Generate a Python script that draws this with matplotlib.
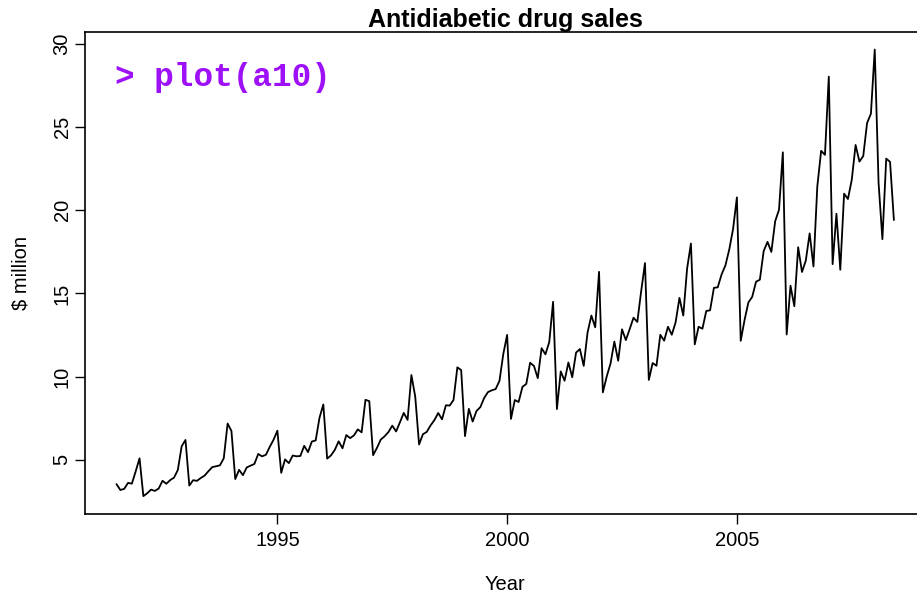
import numpy as np
import matplotlib.pyplot as plt

# Monthly antidiabetic drug sales (a10), Jul 1991 - Jun 2008
start_year = 1991.5
sales = [
    3.526591, 3.180891, 3.252221, 3.611003, 3.565869, 4.306371,
    5.088335, 2.814520, 2.985811, 3.204780, 3.127578, 3.270523,
    3.737851, 3.558776, 3.777202, 3.924490, 4.386531, 5.810549,
    6.192068, 3.450857, 3.772307, 3.734303, 3.905399, 4.049687,
    4.315566, 4.562185, 4.608662, 4.667851, 5.093841, 7.179962,
    6.731473, 3.841278, 4.394076, 4.075341, 4.540645, 4.645615,
    4.752193, 5.350605, 5.204455, 5.301651, 5.773742, 6.204593,
    6.749484, 4.216067, 5.021613, 4.799091, 5.256133, 5.208566,
    5.228711, 5.837474, 5.459413, 6.098237, 6.162564, 7.528097,
    8.326584, 5.069796, 5.262557, 5.597126, 6.110296, 5.689161,
    6.486849, 6.300569, 6.467476, 6.828629, 6.649707, 8.606443,
    8.524753, 5.277225, 5.714571, 6.214020, 6.411115, 6.667909,
    7.050774, 6.704290, 7.250984, 7.819136, 7.398101, 10.096233,
    8.798501, 5.918871, 6.534138, 6.675206, 7.064202, 7.383845,
    7.813386, 7.431201, 8.275117, 8.260782, 8.596159, 10.558939,
    10.391288, 6.421559, 8.062058, 7.297119, 7.936605, 8.165363,
    8.717208, 9.070431, 9.177158, 9.251191, 9.745230, 11.364395,
    12.511462, 7.457199, 8.591191, 8.474000, 9.386803, 9.560399,
    10.834295, 10.643751, 9.908278, 11.710076, 11.340151, 12.079132,
    14.497581, 8.049275, 10.312891, 9.753358, 10.850382, 9.961719,
    11.443601, 11.659239, 10.647060, 12.652134, 13.674466, 12.965735,
    16.300269, 9.053485, 10.002449, 10.788750, 12.106705, 10.954101,
    12.844566, 12.196500, 12.854748, 13.542004, 13.287640, 15.134918,
    16.828350, 9.800215, 10.816994, 10.654223, 12.512323, 12.161210,
    12.998046, 12.517276, 13.268658, 14.733622, 13.669382, 16.503966,
    18.003768, 11.938030, 12.997900, 12.882645, 13.943447, 13.989472,
    15.339097, 15.370764, 16.142005, 16.685754, 17.636728, 18.869325,
    20.778723, 12.154552, 13.402392, 14.459239, 14.795102, 15.705248,
    15.829550, 17.554701, 18.100864, 17.496668, 19.347265, 20.031291,
    23.486694, 12.536987, 15.467018, 14.233539, 17.783058, 16.291602,
    16.980282, 18.612189, 16.623343, 21.430241, 23.575517, 23.334206,
    28.038383, 16.763869, 19.792754, 16.427305, 21.000742, 20.681002,
    21.834890, 23.930204, 22.930357, 23.263340, 25.250030, 25.806090,
    29.665356, 21.654285, 18.264945, 23.107677, 22.912510, 19.431740,
]
x_ticks = [1995, 2000, 2005]
y_ticks = [5, 10, 15, 20, 25, 30]

t = start_year + np.arange(len(sales)) / 12.0
y = np.array(sales)

plt.rcParams['font.family'] = ['Liberation Sans', 'DejaVu Sans']

fig = plt.figure(figsize=(9.17, 5.96), dpi=100)
ax = fig.add_axes([0.0932, 0.1376, 0.9155, 0.8092])

ax.plot(t, y, color='black', linewidth=1.3)

# R style 4% padding
xpad = (t[-1] - t[0]) * 0.04
ypad = (y.max() - y.min()) * 0.04
ax.set_xlim(t[0] - xpad, t[-1] + xpad)
ax.set_ylim(y.min() - ypad, y.max() + ypad)

ax.set_xticks(x_ticks)
ax.set_yticks(y_ticks)
ax.set_yticklabels([str(v) for v in y_ticks], rotation=90, va='center')
ax.tick_params(direction='out', length=7, width=1, labelsize=14.5)
ax.tick_params(axis='x', pad=5)
ax.tick_params(axis='y', pad=3)
for s in ax.spines.values():
    s.set_linewidth(1.2)

ax.set_title('Antidiabetic drug sales', fontsize=18, fontweight='bold',
             y=1.0097, pad=0, va='baseline')
ax.set_xlabel('Year', fontsize=14.5, labelpad=18)
ax.set_ylabel('$ million', fontsize=14.5, labelpad=16)

ax.text(0.035, 0.905, '> plot(a10)', transform=ax.transAxes,
        family=['Liberation Mono', 'DejaVu Sans Mono'], fontweight='bold',
        fontsize=23.5, color='#9E10F8', va='center', ha='left')

fig.savefig('out.png', dpi=100)
